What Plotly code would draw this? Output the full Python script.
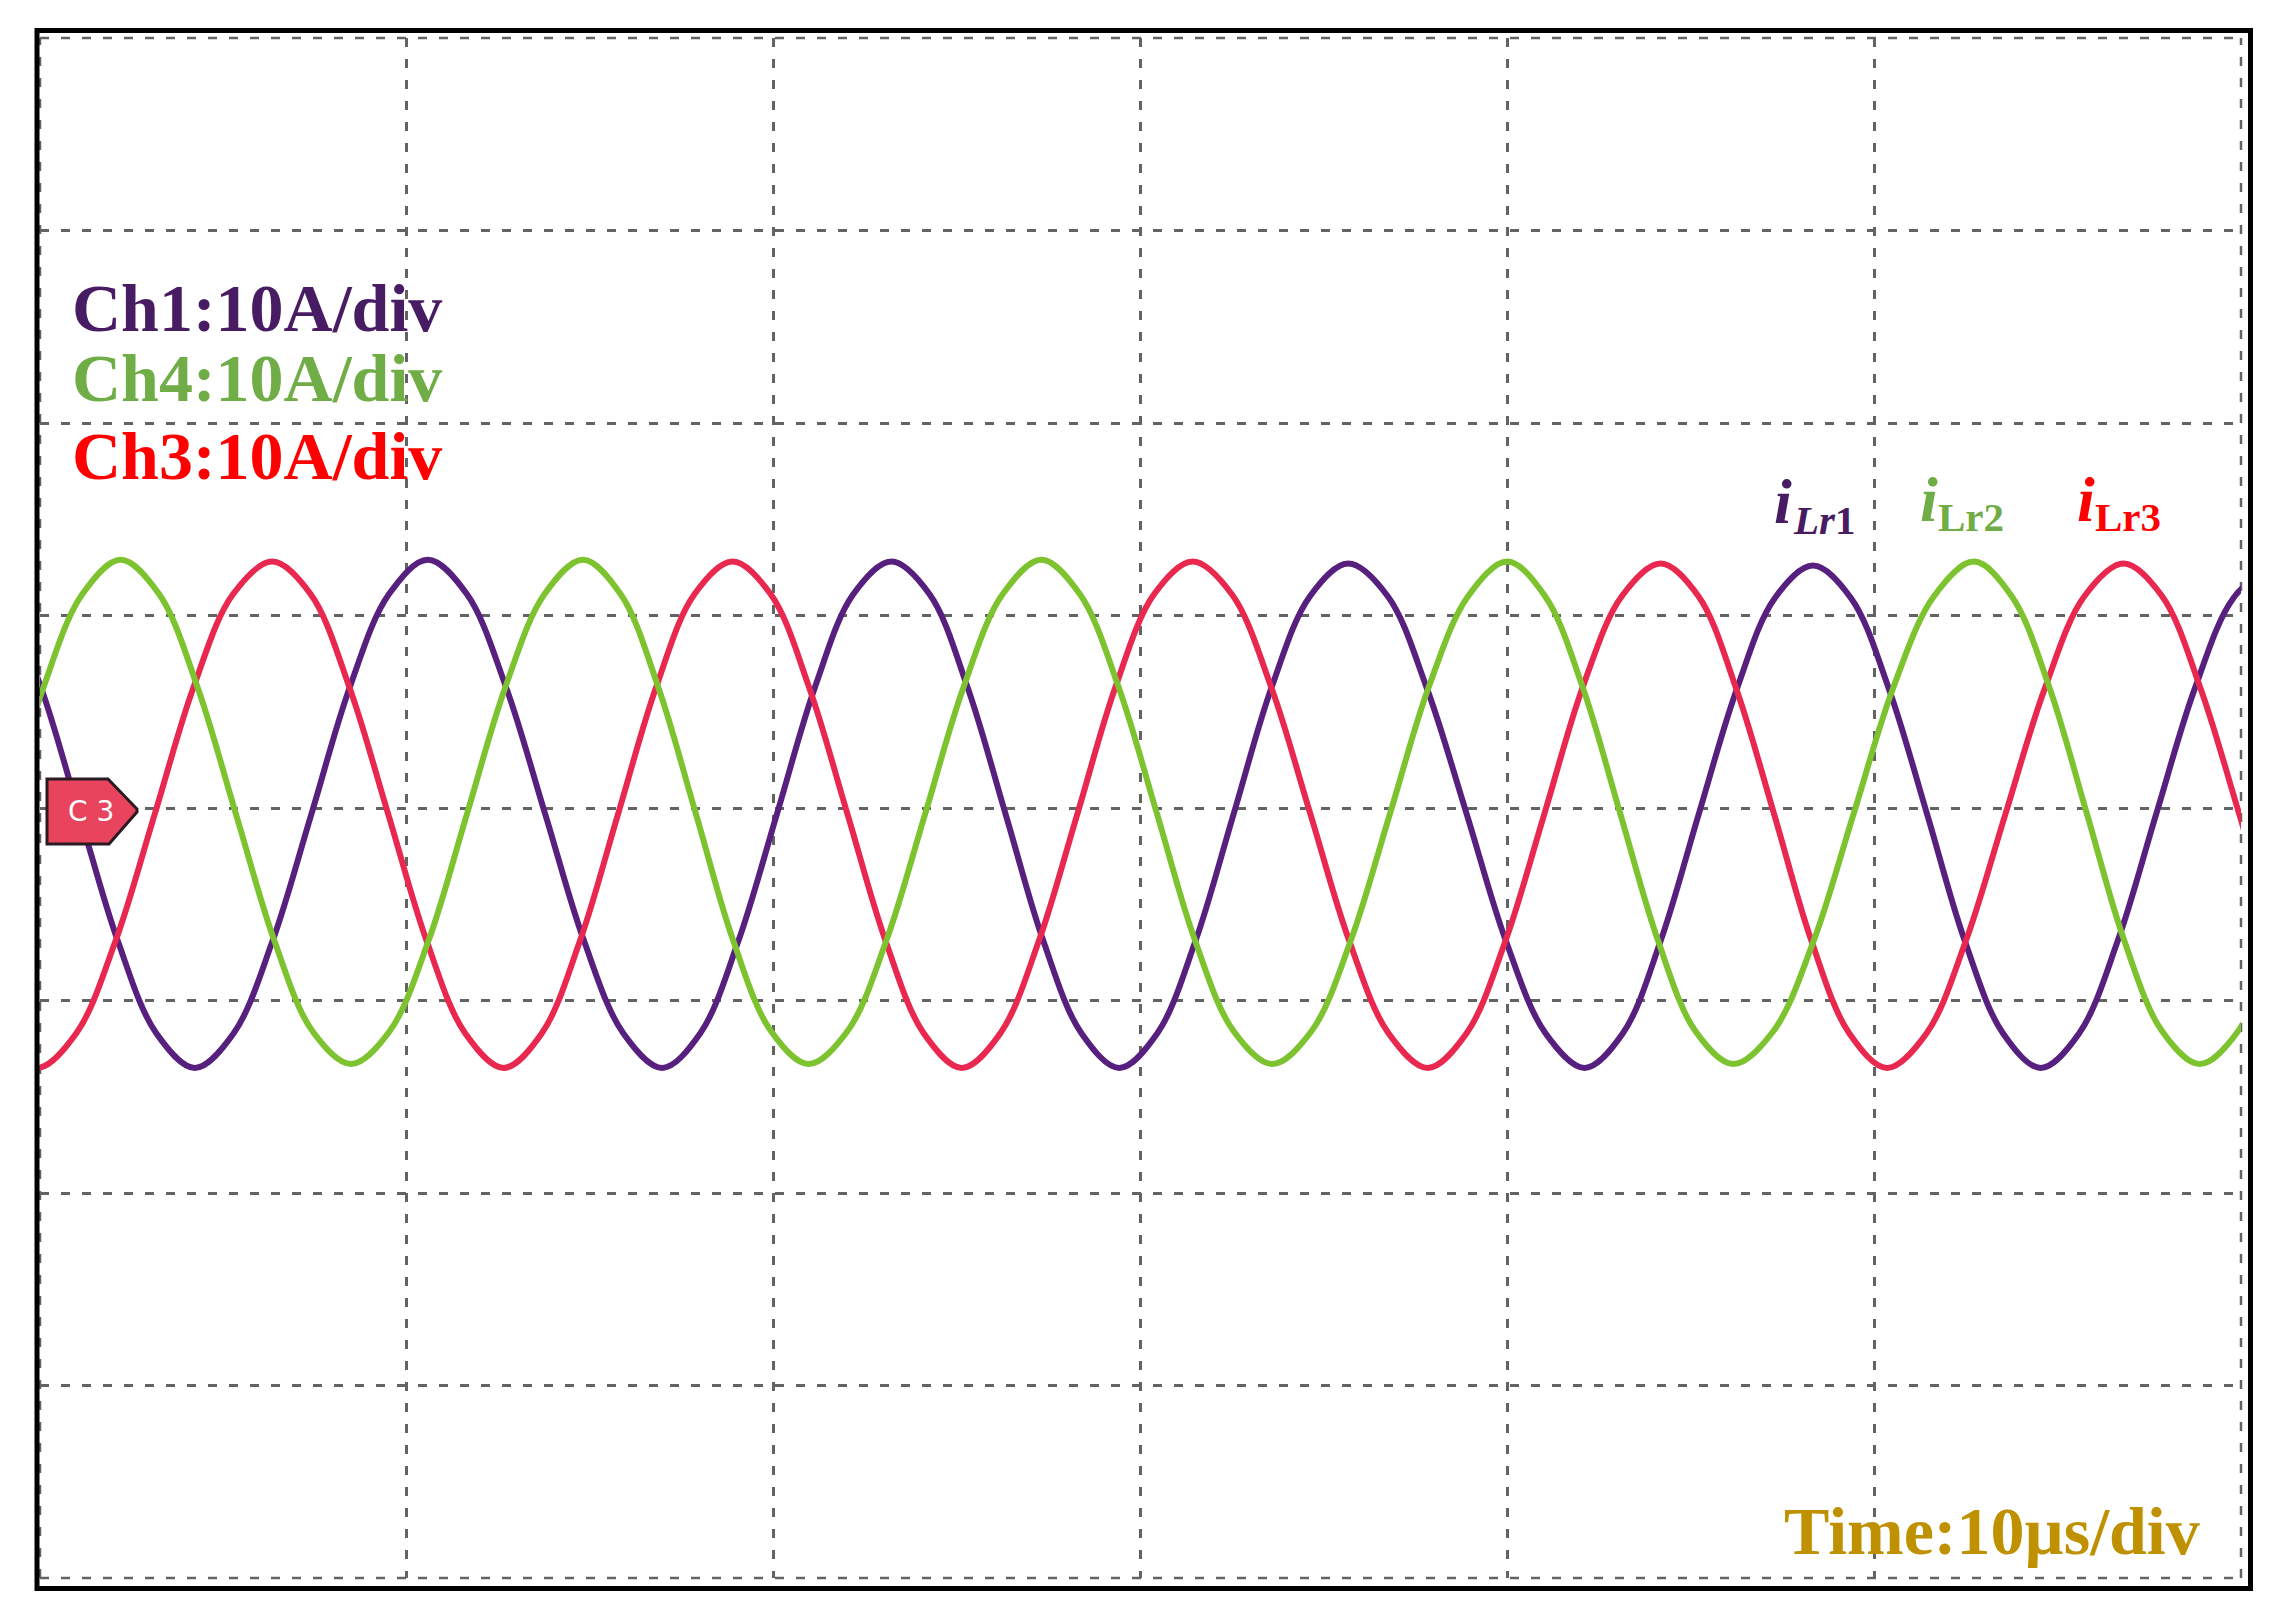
import plotly.graph_objects as go

# ---------------- data (time in µs, current in A; 10 µs/div, 10 A/div) ----------------
t_ilr1 = [-2.08, -1.03, 0.02, 1.07, 2.12, 3.17, 4.22, 5.28, 6.34, 7.40, 8.45, 9.51,
          10.57, 11.64, 12.70, 13.77, 14.83, 15.90, 16.96, 18.00, 19.04, 20.09, 21.13, 22.17,
          23.21, 24.25, 25.28, 26.32, 27.35, 28.39, 29.42, 30.46, 31.50, 32.54, 33.58, 34.62,
          35.66, 36.74, 37.81, 38.89, 39.96, 41.04, 42.11, 43.15, 44.18, 45.22, 46.26, 47.29,
          48.33, 49.37, 50.40, 51.44, 52.47, 53.51, 54.54, 55.59, 56.64, 57.69, 58.74, 59.79,
          60.84]
i_ilr1 = [12.9, 11.1, 6.3, -0.3, -6.9, -11.7, -13.5, -11.7, -6.9, -0.3, 6.3, 11.1,
          12.9, 11.1, 6.3, -0.3, -6.9, -11.7, -13.5, -11.7, -6.9, -0.3, 6.3, 11.1,
          12.8, 11.1, 6.3, -0.3, -6.9, -11.7, -13.5, -11.7, -6.9, -0.3, 6.3, 11.0,
          12.7, 11.0, 6.2, -0.3, -6.9, -11.7, -13.5, -11.7, -6.9, -0.3, 6.2, 10.9,
          12.6, 10.9, 6.2, -0.3, -6.9, -11.7, -13.5, -11.7, -6.9, -0.3, 6.2, 10.9,
          12.6]

t_ilr2 = [-4.10, -3.05, -2.00, -0.95, 0.10, 1.15, 2.20, 3.25, 4.29, 5.34, 6.39, 7.43,
          8.48, 9.53, 10.59, 11.64, 12.69, 13.75, 14.80, 15.83, 16.85, 17.88, 18.90, 19.93,
          20.95, 22.01, 23.07, 24.13, 25.18, 26.24, 27.30, 28.35, 29.40, 30.45, 31.49, 32.54,
          33.59, 34.66, 35.73, 36.80, 37.86, 38.93, 40.00, 41.03, 42.05, 43.08, 44.11, 45.13,
          46.16, 47.25, 48.35, 49.44, 50.53, 51.63, 52.72, 53.75, 54.77, 55.80, 56.82, 57.85,
          58.87, 59.92, 60.97, 62.02]
i_ilr2 = [-13.3, -11.6, -6.9, -0.3, 6.3, 11.1, 12.9, 11.1, 6.3, -0.3, -6.9, -11.6,
          -13.3, -11.6, -6.9, -0.3, 6.3, 11.1, 12.9, 11.1, 6.3, -0.3, -6.9, -11.6,
          -13.3, -11.6, -6.9, -0.3, 6.3, 11.1, 12.9, 11.1, 6.3, -0.3, -6.9, -11.6,
          -13.3, -11.6, -6.9, -0.3, 6.3, 11.0, 12.8, 11.0, 6.3, -0.3, -6.9, -11.6,
          -13.3, -11.6, -6.9, -0.3, 6.3, 11.0, 12.8, 11.0, 6.3, -0.3, -6.9, -11.6,
          -13.3, -11.6, -6.9, -0.3]

t_ilr3 = [-6.33, -5.29, -4.25, -3.21, -2.16, -1.12, -0.08, 0.99, 2.06, 3.13, 4.19, 5.26,
          6.33, 7.38, 8.43, 9.49, 10.54, 11.59, 12.64, 13.68, 14.72, 15.76, 16.80, 17.84,
          18.88, 19.92, 20.96, 22.01, 23.05, 24.09, 25.13, 26.18, 27.23, 28.28, 29.32, 30.37,
          31.42, 32.49, 33.56, 34.63, 35.69, 36.76, 37.83, 38.89, 39.95, 41.01, 42.06, 43.12,
          44.18, 45.21, 46.24, 47.27, 48.29, 49.32, 50.35, 51.43, 52.50, 53.58, 54.65, 55.73,
          56.80, 57.85, 58.90, 59.95, 61.00, 62.05]
i_ilr3 = [12.8, 11.1, 6.3, -0.3, -6.9, -11.7, -13.5, -11.7, -6.9, -0.3, 6.3, 11.1,
          12.8, 11.1, 6.3, -0.3, -6.9, -11.7, -13.5, -11.7, -6.9, -0.3, 6.3, 11.1,
          12.8, 11.1, 6.3, -0.3, -6.9, -11.7, -13.5, -11.7, -6.9, -0.3, 6.3, 11.1,
          12.8, 11.1, 6.3, -0.3, -6.9, -11.7, -13.5, -11.7, -6.9, -0.3, 6.3, 11.0,
          12.7, 11.0, 6.2, -0.3, -6.9, -11.7, -13.5, -11.7, -6.9, -0.3, 6.2, 11.0,
          12.7, 11.0, 6.2, -0.3, -6.9, -11.7]

channel_labels = ["Ch1:10A/div", "Ch4:10A/div", "Ch3:10A/div"]
time_label = "Time:10µs/div"
trace_labels = ["<b><i>i</i></b>", "<b><i>i</i></b>", "<b><i>i</i></b>"]
trace_subs = ["<b><i>Lr</i>1</b>", "<b>Lr2</b>", "<b>Lr3</b>"]
marker_label = "C 3"

x_range = [0, 60]     # 6 divisions x 10 µs
y_range = [-40, 40]   # 8 divisions x 10 A

# ---------------- style / layout geometry ----------------
OFF = 8                      # default page body margin
W, H = 2278 - 2 * OFF, 1624 - 2 * OFF
GX0, GX1, GY0, GY1 = 40, 2241, 38, 1578   # graticule box on the page (px)
ML, MT = GX0 - OFF, GY0 - OFF
MR = W - ML - (GX1 - GX0)
MB = H - MT - (GY1 - GY0)
PW = GX1 - GX0
PH = GY1 - GY0

def px(x):
    return (x - GX0) / PW

def py(y):
    return (GY1 - y) / PH

trace_colors = ["#58207E", "#7DC22F", "#E9284F"]
text_colors = ["#481C62", "#70AD47", "#FF0000"]
grid_color = "#636363"
grid_dash = "9px,12px"
serif = "Liberation Serif"

fig = go.Figure()
for t, i, c in [(t_ilr1, i_ilr1, trace_colors[0]),
                (t_ilr3, i_ilr3, trace_colors[2]),
                (t_ilr2, i_ilr2, trace_colors[1])]:
    fig.add_trace(go.Scatter(x=t, y=i, mode="lines",
                             line=dict(color=c, width=6, shape="spline", smoothing=1.0),
                             hoverinfo="skip", showlegend=False))

axis_common = dict(showgrid=True, gridcolor=grid_color, gridwidth=2.5, griddash=grid_dash,
                   zeroline=False, showticklabels=False, ticks="", showline=False,
                   fixedrange=True)
fig.update_xaxes(range=x_range, tick0=0, dtick=10, **axis_common)
fig.update_yaxes(range=y_range, tick0=0, dtick=10, **axis_common)

shapes = []
for (x0, y0, x1, y1) in [(0, 0, 1, 0), (0, 1, 1, 1), (0, 0, 0, 1), (1, 0, 1, 1)]:
    shapes.append(dict(type="line", xref="paper", yref="paper", x0=x0, y0=y0, x1=x1, y1=y1,
                       line=dict(color=grid_color, width=2.5, dash=grid_dash), layer="below"))
shapes.append(dict(type="rect", xref="paper", yref="paper",
                   x0=px(37), x1=px(2250.5), y0=py(1588.5), y1=py(30.5),
                   line=dict(color="black", width=5), fillcolor="rgba(0,0,0,0)", layer="above"))
pts = [(47, 779), (108, 779), (137, 809), (137, 812), (109, 844), (47, 844)]
path = "M " + " L ".join(f"{px(a):.6f},{py(b):.6f}" for a, b in pts) + " Z"
shapes.append(dict(type="path", xref="paper", yref="paper", path=path,
                   fillcolor="#E8445E", line=dict(color="#2A1A22", width=3), layer="above"))
fig.update_layout(shapes=shapes)

def ann(text, x, y, size, color, xanchor="left", yanchor="bottom", family=serif):
    fig.add_annotation(text=text, x=px(x), y=py(y), xref="paper", yref="paper",
                       xanchor=xanchor, yanchor=yanchor, showarrow=False,
                       font=dict(family=family, size=size, color=color))

fs = 68
for lab, col, base in zip(channel_labels, text_colors, [332, 402, 480]):
    ann(f"<b>{lab}</b>", 70, base + 0.216 * fs + 1, fs, col)
ann(f"<b>{time_label}</b>", 2202, 1555 + 0.216 * fs + 1, fs, "#BF9000", xanchor="right")

for lab, sub, col, xi, bi, xs, bs in zip(trace_labels, trace_subs, text_colors,
                                         [1772, 1918, 2075], [524, 522, 522],
                                         [1791, 1936, 2093], [535, 532, 532]):
    ann(lab, xi, bi + 0.216 * 64 + 1, 64, col)
    ann(sub, xs, bs + 0.216 * 41 + 1, 41, col)

ann(marker_label, 91, 811, 28, "white", xanchor="center", yanchor="middle", family="DejaVu Sans")

fig.update_layout(width=W, height=H, margin=dict(l=ML, r=MR, t=MT, b=MB, pad=0),
                  paper_bgcolor="white", plot_bgcolor="white")

fig.write_html("out.html")
